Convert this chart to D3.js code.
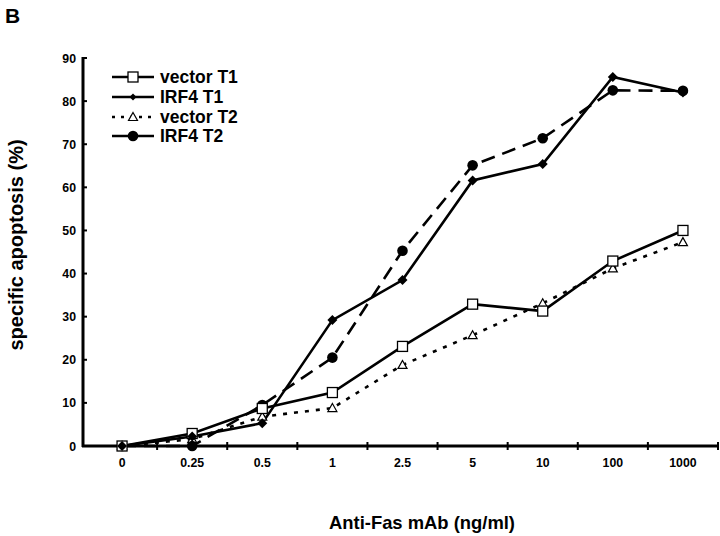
<!DOCTYPE html>
<html>
<head>
<meta charset="utf-8">
<script src="https://cdn.jsdelivr.net/npm/d3@7"></script>
<style>
	body { margin: 0; background: white; }
	text { font-family: Arial, 'Liberation Sans', sans-serif; font-weight: bold; fill: black; }
</style>
</head>
<body>
<div id="chart"></div>
<script>
var doses = ['0', '0.25', '0.5', '1', '2.5', '5', '10', '100', '1000'];
var y_ticks = [0, 10, 20, 30, 40, 50, 60, 70, 80, 90];
var vector_t1 = [0, 2.9, 8.7, 12.4, 23.1, 32.9, 31.3, 42.9, 50.0];
var irf4_t1 = [0, 2.2, 5.3, 29.2, 38.5, 61.6, 65.4, 85.6, 82.0];
var vector_t2 = [0, 1.6, 6.8, 8.8, 18.8, 25.7, 33.1, 41.2, 47.3];
var irf4_t2 = [0, 0, 9.5, 20.5, 45.3, 65.1, 71.4, 82.5, 82.4];
var series_names = ['vector T1', 'IRF4 T1', 'vector T2', 'IRF4 T2'];

var series = [
	{name: series_names[0], values: vector_t1, dash: null, marker: 'square'},
	{name: series_names[1], values: irf4_t1, dash: null, marker: 'diamond'},
	{name: series_names[2], values: vector_t2, dash: '4,7', marker: 'triangle'},
	{name: series_names[3], values: irf4_t2, dash: '14,8', marker: 'circle'}
];

var width = 720, height = 536;
var svg = d3.select('#chart')
	.append('svg')
		.attr('width', width)
		.attr('height', height);

// panel letter
svg.append('text')
	.attr('x', 5)
	.attr('y', 23)
	.style('font-size', '21px')
	.text('B');

var x = d3.scaleBand()
	.domain(doses)
	.range([87, 718]);

var y = d3.scaleLinear()
	.domain([0, 90])
	.range([446, 58]);

// y axis
svg.append('line')
	.attr('x1', 83).attr('x2', 83)
	.attr('y1', y(90) - 1).attr('y2', y(0) + 1)
	.attr('stroke', 'black')
	.attr('stroke-width', 3);
svg.selectAll('.ytick')
	.data(y_ticks)
	.enter()
	.append('line')
		.attr('x1', 83).attr('x2', 87)
		.attr('y1', function(d) { return y(d); })
		.attr('y2', function(d) { return y(d); })
		.attr('stroke', 'black')
		.attr('stroke-width', 2);
svg.selectAll('.ylabel')
	.data(y_ticks)
	.enter()
	.append('text')
		.attr('text-anchor', 'end')
		.attr('x', 76)
		.attr('y', function(d) { return y(d) + 4.5; })
		.style('font-size', '12.3px')
		.text(function(d) { return d; });

// x axis
svg.append('line')
	.attr('x1', 82).attr('x2', 719)
	.attr('y1', y(0)).attr('y2', y(0))
	.attr('stroke', 'black')
	.attr('stroke-width', 3);
svg.selectAll('.xtick')
	.data(doses)
	.enter()
	.append('line')
		.attr('x1', function(d) { return x(d) + x.bandwidth(); })
		.attr('x2', function(d) { return x(d) + x.bandwidth(); })
		.attr('y1', y(0) - 4)
		.attr('y2', y(0) + 4)
		.attr('stroke', 'black')
		.attr('stroke-width', 2);
svg.selectAll('.xlabel')
	.data(doses)
	.enter()
	.append('text')
		.attr('text-anchor', 'middle')
		.attr('x', function(d) { return x(d) + x.bandwidth() / 2; })
		.attr('y', 467)
		.style('font-size', '12.3px')
		.text(function(d) { return d; });

// axis titles
svg.append('text')
	.attr('text-anchor', 'middle')
	.attr('x', 422)
	.attr('y', 529)
	.style('font-size', '18.4px')
	.text('Anti-Fas mAb (ng/ml)');
svg.append('text')
	.attr('text-anchor', 'middle')
	.attr('transform', 'translate(23,245) rotate(-90)')
	.style('font-size', '20px')
	.text('specific apoptosis (%)');

var cx = function(i) { return x(doses[i]) + x.bandwidth() / 2; };

var line = d3.line()
	.x(function(d, i) { return cx(i); })
	.y(function(d) { return y(d); });

var draw_marker = function(g, type, px, py, small) {
	if (type == 'square') {
		g.append('rect')
			.attr('x', px - 5).attr('y', py - 5)
			.attr('width', 10).attr('height', 10)
			.attr('fill', 'white').attr('stroke', 'black').attr('stroke-width', 1.3);
	} else if (type == 'diamond') {
		var s = small ? 3.5 : 5;
		g.append('path')
			.attr('d', 'M0,' + (-s) + 'L' + s + ',0L0,' + s + 'L' + (-s) + ',0Z')
			.attr('transform', 'translate(' + px + ',' + py + ')')
			.attr('fill', 'black');
	} else if (type == 'triangle') {
		g.append('path')
			.attr('d', 'M0,-4.5L4.5,3.5L-4.5,3.5Z')
			.attr('transform', 'translate(' + px + ',' + py + ')')
			.attr('fill', 'white').attr('stroke', 'black').attr('stroke-width', 1.2);
	} else {
		g.append('circle')
			.attr('cx', px).attr('cy', py).attr('r', 5.3)
			.attr('fill', 'black');
	}
};

// lines then markers
var order = [2, 3, 0, 1];
order.forEach(function(k) {
	var s = series[k];
	svg.append('path')
		.datum(s.values)
		.attr('d', line)
		.attr('fill', 'none')
		.attr('stroke', 'black')
		.attr('stroke-width', 2.6)
		.attr('stroke-dasharray', s.dash);
});
order.forEach(function(k) {
	var s = series[k];
	var g = svg.append('g');
	s.values.forEach(function(v, i) {
		draw_marker(g, s.marker, cx(i), y(v), false);
	});
});

// legend
var legend_y = [77, 97, 117, 136];
series.forEach(function(s, i) {
	var g = svg.append('g');
	g.append('line')
		.attr('x1', 112).attr('x2', 154)
		.attr('y1', legend_y[i]).attr('y2', legend_y[i])
		.attr('stroke', 'black')
		.attr('stroke-width', 2.6)
		.attr('stroke-dasharray', s.dash == '4,7' ? '3,6' : null);
	draw_marker(g, s.marker, 133, legend_y[i], true);
	g.append('text')
		.attr('x', 160)
		.attr('y', legend_y[i] + 6)
		.style('font-size', '17.5px')
		.text(s.name);
});
</script>
</body>
</html>
